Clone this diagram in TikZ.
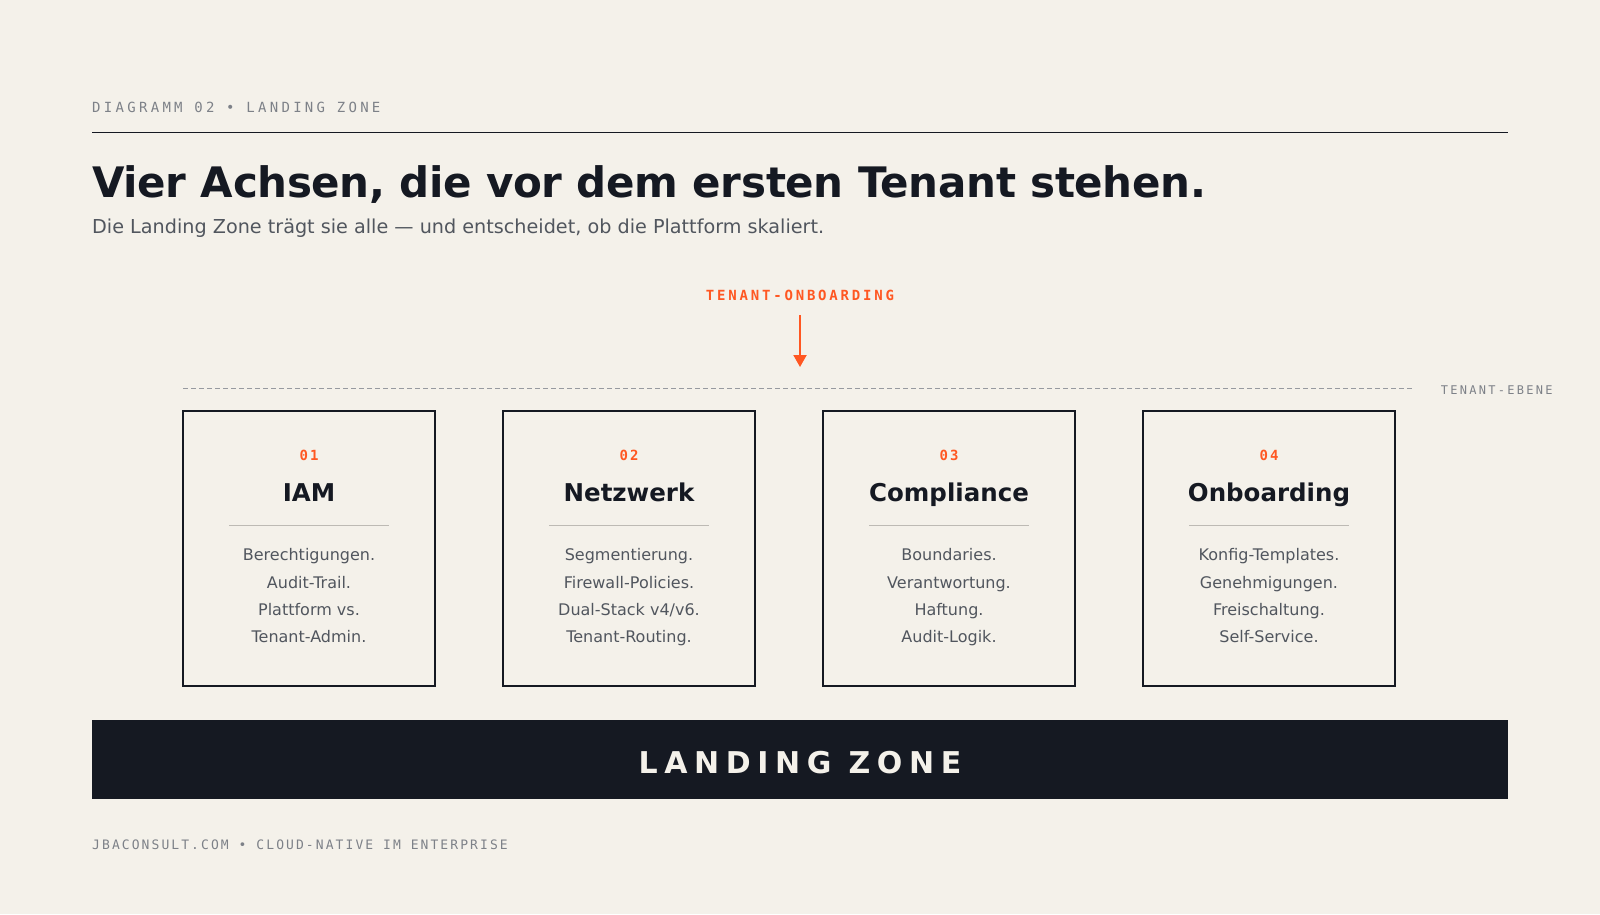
\documentclass[tikz,border=0pt]{standalone}
\usepackage{fontspec}
\setmainfont{DejaVu Sans}
\setmonofont{DejaVu Sans Mono}
\usetikzlibrary{arrows.meta}
\definecolor{paper}{HTML}{F4F1EA}
\definecolor{ink}{HTML}{151922}
\definecolor{accent}{HTML}{FF5722}
\definecolor{slate}{HTML}{51565E}
\definecolor{muted}{HTML}{7D8188}
\definecolor{rulegray}{HTML}{BDBAB4}

\begin{document}
\begin{tikzpicture}[x=1pt,y=-1pt]
      \tikzset{mono/.style 2 args={inner sep=0pt,
          font=\fontsize{#1}{#1}\ttfamily\addfontfeatures{LetterSpace=#2}},
        mono bold/.style 2 args={inner sep=0pt,
          font=\fontsize{#1}{#1}\ttfamily\bfseries\addfontfeatures{LetterSpace=#2}},
        axis box/.style={draw=ink, line width=1.5pt, inner sep=0pt,
          minimum width=252pt, minimum height=275pt},
        num/.style={mono bold={14}{15}, text=accent, anchor=base},
        head/.style={inner sep=0pt, anchor=base, text=ink,
          font=\fontsize{24.5}{28}\selectfont\bfseries},
        body/.style={inner sep=0pt, anchor=north, align=center, text=slate,
          font=\fontsize{16}{27.3}\selectfont},
        sep/.style={draw=rulegray, line width=1pt}
      }
      \path [use as bounding box, fill=paper] (0,0) rectangle (1600,914);

      \node [mono={14}{23.5}, text=muted, anchor=base west] (kicker) at (92,112.7) {DIAGRAMM 02 • LANDING ZONE};
      \draw [ink, line width=1.5pt] (92,132.5) -- (1508,132.5);
      \node [inner sep=0pt, anchor=base west, text=ink,
        font=\fontsize{42}{50}\selectfont\bfseries\addfontfeatures{LetterSpace=-0.8}] (title) at (92,197.3)
        {Vier Achsen, die vor dem ersten Tenant stehen.};
      \node [inner sep=0pt, anchor=base west, text=slate, font=\fontsize{19.2}{22}\selectfont] (subtitle) at (92,233)
        {Die Landing Zone trägt sie alle — und entscheidet, ob die Plattform skaliert.};

      % onboarding arrow
      \node [mono bold={14}{20}, text=accent, anchor=base] (onboard) at (800,300) {TENANT-ONBOARDING};
      \coordinate (arrowtop) at (800,315);
      \coordinate (arrowtip) at (800,367);
      \draw [accent, line width=2pt, -{Triangle[width=13pt,length=12pt]}] (arrowtop) -- (arrowtip);

      \draw [muted!80, line width=1pt, dash pattern=on 5pt off 3pt] (183,388.3) -- (1413,388.3);
      \node [mono={12}{19}, text=muted, anchor=base west] (tier) at (1440.7,394) {TENANT-EBENE};

      % the four axes
      \node [axis box] (iam) at (309,548.5) {};
      \node [num] (iam-num) at (309,460.3) {01};
      \node [head] (iam-head) at (309,501) {IAM};
      \draw [sep] (229,525.3) -- +(160,0);
      \node [body] (iam-text) at (309,548.5) {Berechtigungen.\\Audit-Trail.\\Plattform vs.\\Tenant-Admin.};

      \node [axis box] (net) at (629,548.5) {};
      \node [num] (net-num) at (629,460.3) {02};
      \node [head] (net-head) at (629,501) {Netzwerk};
      \draw [sep] (549,525.3) -- +(160,0);
      \node [body] (net-text) at (629,548.5) {Segmentierung.\\Firewall-Policies.\\Dual-Stack v4/v6.\\Tenant-Routing.};

      \node [axis box] (comp) at (949,548.5) {};
      \node [num] (comp-num) at (949,460.3) {03};
      \node [head] (comp-head) at (949,501) {Compliance};
      \draw [sep] (869,525.3) -- +(160,0);
      \node [body] (comp-text) at (949,548.5) {Boundaries.\\Verantwortung.\\Haftung.\\Audit-Logik.};

      \node [axis box] (onb) at (1269,548.5) {};
      \node [num] (onb-num) at (1269,460.3) {04};
      \node [head] (onb-head) at (1269,501) {Onboarding};
      \draw [sep] (1189,525.3) -- +(160,0);
      \node [body] (onb-text) at (1269,548.5) {Konfig-Templates.\\Genehmigungen.\\Freischaltung.\\Self-Service.};

      % foundation
      \node [fill=ink, inner sep=0pt, minimum width=1416pt, minimum height=79.3pt] (zone) at (800,759.65) {};
      \node [inner sep=0pt, anchor=base, text=paper,
        font=\fontsize{30}{34}\selectfont\bfseries\addfontfeatures{LetterSpace=22}] (zone-label) at (800,773.5) {LANDING ZONE};

      \node [mono={13}{16}, text=muted, anchor=base west] (footer) at (92,849.5) {JBACONSULT.COM • CLOUD-NATIVE IM ENTERPRISE};

    \end{tikzpicture}
\end{document}
